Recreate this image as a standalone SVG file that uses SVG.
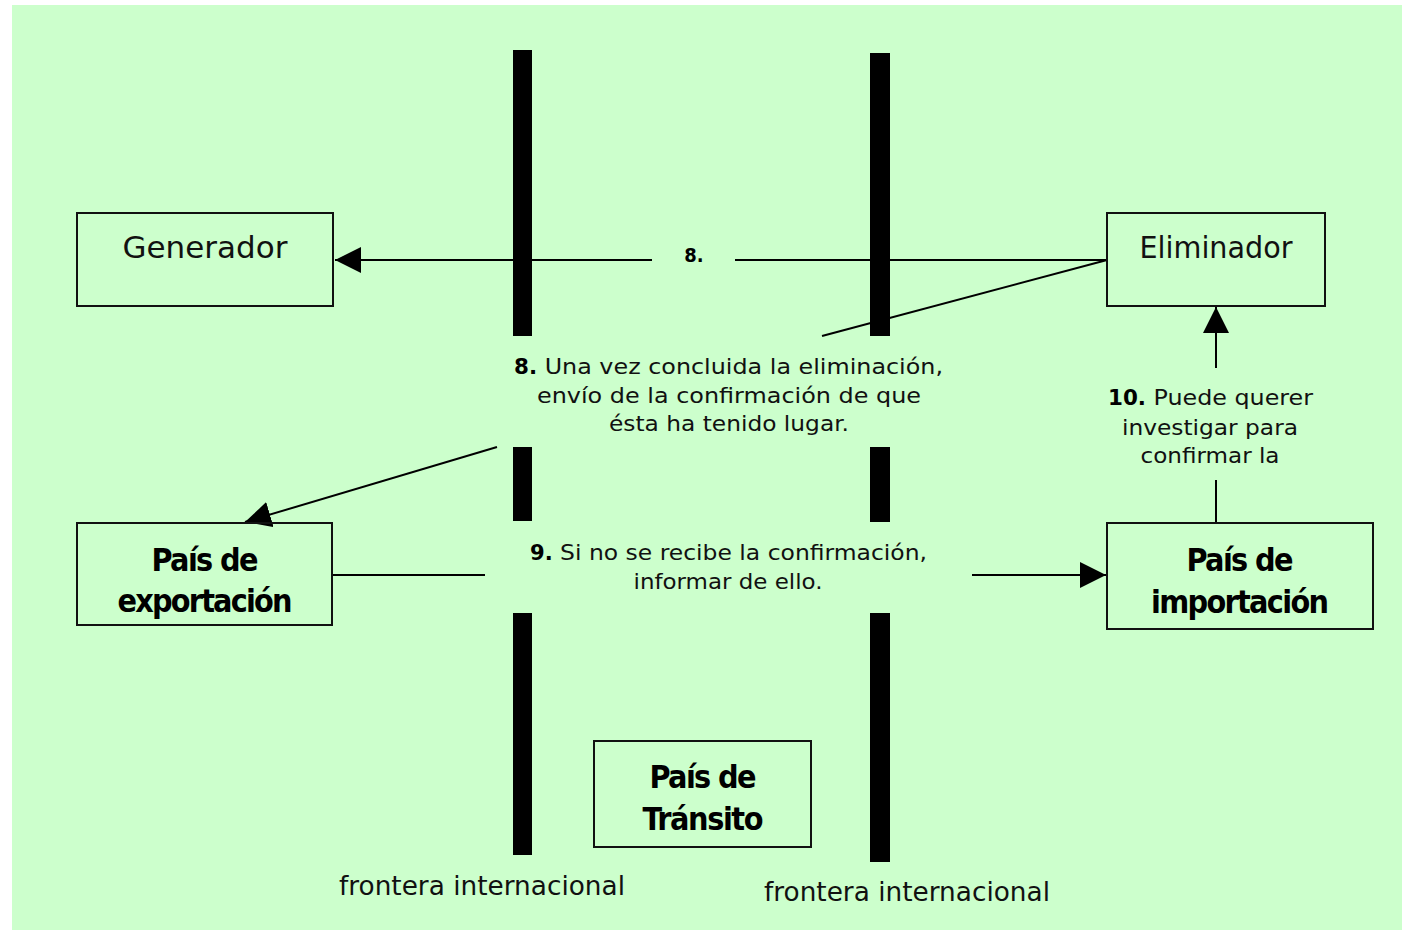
<svg xmlns="http://www.w3.org/2000/svg" width="1404" height="936" viewBox="0 0 1404 936">
<defs>
<style>
.bg{fill:#ccffcc}
.bar{fill:#000}
.box{fill:none;stroke:#111;stroke-width:2}
.ln{fill:none;stroke:#000;stroke-width:2}
.t{font-family:"DejaVu Sans","Liberation Sans",sans-serif;fill:#111}
.b{font-family:"DejaVu Sans Condensed","DejaVu Sans","Liberation Sans",sans-serif;font-weight:bold;fill:#000}
</style>
<marker id="ah2" viewBox="0 0 10 10" refX="10" refY="5" markerWidth="26" markerHeight="26" markerUnits="userSpaceOnUse" orient="auto">
<path d="M0,0 L10,5 L0,10 Z" fill="#000"/>
</marker>
</defs>
<rect x="0" y="0" width="1404" height="936" fill="#fff"/>
<rect class="bg" x="12" y="5" width="1390" height="925"/>

<g id="frontera-izq">
<rect class="bar" x="513" y="50" width="19" height="286"/>
<rect class="bar" x="513" y="447" width="19" height="74"/>
<rect class="bar" x="513" y="613" width="19" height="242"/>
<text class="t" x="482" y="895" font-size="26" text-anchor="middle" textLength="286" lengthAdjust="spacingAndGlyphs">frontera internacional</text>
</g>
<g id="frontera-der">
<rect class="bar" x="870" y="53" width="20" height="283"/>
<rect class="bar" x="870" y="447" width="20" height="75"/>
<rect class="bar" x="870" y="613" width="20" height="249"/>
<text class="t" x="907" y="901" font-size="26" text-anchor="middle" textLength="286" lengthAdjust="spacingAndGlyphs">frontera internacional</text>
</g>

<g id="connectors">
<line class="ln" x1="652" y1="260" x2="335" y2="260" marker-end="url(#ah2)"/>
<line class="ln" x1="1107" y1="260" x2="735" y2="260"/>
<line class="ln" x1="1107" y1="260" x2="822" y2="336"/>
<line class="ln" x1="497" y1="447" x2="245" y2="522" marker-end="url(#ah2)"/>
<line class="ln" x1="333" y1="575" x2="485" y2="575"/>
<line class="ln" x1="972" y1="575" x2="1106" y2="575" marker-end="url(#ah2)"/>
<line class="ln" x1="1216" y1="523" x2="1216" y2="480"/>
<line class="ln" x1="1216" y1="368" x2="1216" y2="307" marker-end="url(#ah2)"/>
<text class="b" x="694" y="262" font-size="20" text-anchor="middle">8.</text>
</g>

<g id="generador">
<rect class="box" x="77" y="213" width="256" height="93"/>
<text class="t" x="205" y="258" font-size="30" text-anchor="middle" textLength="165" lengthAdjust="spacingAndGlyphs">Generador</text>
</g>
<g id="eliminador">
<rect class="box" x="1107" y="213" width="218" height="93"/>
<text class="t" x="1216" y="258" font-size="30" text-anchor="middle" textLength="153" lengthAdjust="spacingAndGlyphs">Eliminador</text>
</g>
<g id="pais-exportacion">
<rect class="box" x="77" y="523" width="255" height="102"/>
<text class="b" x="205" y="571" font-size="32" text-anchor="middle" textLength="107">País de</text>
<text class="b" x="205" y="612" font-size="32" text-anchor="middle" textLength="175">exportación</text>
</g>
<g id="pais-importacion">
<rect class="box" x="1107" y="523" width="266" height="106"/>
<text class="b" x="1240" y="571" font-size="32" text-anchor="middle" textLength="107">País de</text>
<text class="b" x="1240" y="613" font-size="32" text-anchor="middle" textLength="178">importación</text>
</g>
<g id="pais-transito">
<rect class="box" x="594" y="741" width="217" height="106"/>
<text class="b" x="703" y="788" font-size="32" text-anchor="middle" textLength="107">País de</text>
<text class="b" x="703" y="830" font-size="32" text-anchor="middle" textLength="121">Tránsito</text>
</g>

<g id="nota-8">
<text class="t" x="514" y="374" font-size="22" textLength="429" lengthAdjust="spacingAndGlyphs"><tspan class="b" font-family="DejaVu Sans,sans-serif">8.</tspan> Una vez concluida la eliminación,</text>
<text class="t" x="729" y="403" font-size="22" text-anchor="middle" textLength="384" lengthAdjust="spacingAndGlyphs">envío de la confirmación de que</text>
<text class="t" x="729" y="431" font-size="22" text-anchor="middle" textLength="240" lengthAdjust="spacingAndGlyphs">ésta ha tenido lugar.</text>
</g>
<g id="nota-9">
<text class="t" x="530" y="560" font-size="21" textLength="397" lengthAdjust="spacingAndGlyphs"><tspan class="b" font-family="DejaVu Sans,sans-serif">9.</tspan> Si no se recibe la confirmación,</text>
<text class="t" x="728" y="589" font-size="21" text-anchor="middle" textLength="189" lengthAdjust="spacingAndGlyphs">informar de ello.</text>
</g>
<g id="nota-10">
<text class="t" x="1108" y="405" font-size="22" textLength="205" lengthAdjust="spacingAndGlyphs"><tspan class="b" font-family="DejaVu Sans,sans-serif">10.</tspan> Puede querer</text>
<text class="t" x="1210" y="435" font-size="22" text-anchor="middle" textLength="176" lengthAdjust="spacingAndGlyphs">investigar para</text>
<text class="t" x="1210" y="463" font-size="22" text-anchor="middle" textLength="139" lengthAdjust="spacingAndGlyphs">confirmar la</text>
</g>
</svg>
